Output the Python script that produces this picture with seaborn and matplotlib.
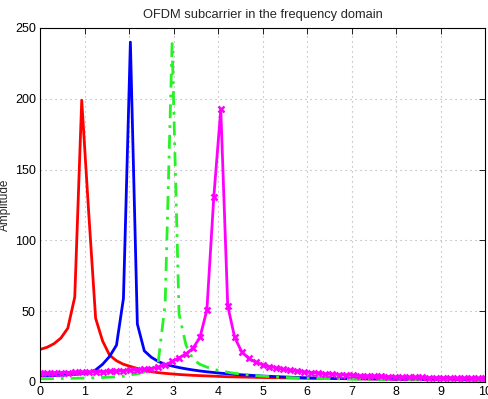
import numpy as np
import pandas as pd
import seaborn as sns
from matplotlib import pyplot as plt

# frequency grid (65 samples from 0 to 10)
freq = np.linspace(0, 10, 65)

red = [23, 24.5, 27, 31, 38, 60, 199, 120, 45, 29, 19, 15, 12.5, 11, 9.5, 8.3, 7.3, 6.6, 6.1, 5.7,
       5.3, 5.0, 4.7, 4.5, 4.3, 4.1, 3.9, 3.7, 3.6, 3.5, 3.4, 3.3, 3.2, 3.1, 3.0, 2.9, 2.85, 2.8, 2.7, 2.65,
       2.6, 2.5, 2.45, 2.4, 2.35, 2.3, 2.25, 2.2, 2.15, 2.1, 2.05, 2.0, 1.95, 1.9, 1.9, 1.85, 1.8, 1.8, 1.75,
       1.7, 1.7, 1.65, 1.6, 1.6, 1.55]

blue = [4.3, 4.4, 4.6, 4.8, 5.1, 5.4, 5.8, 6.5, 8.5, 12.5, 18, 26, 59, 240, 41, 22, 17.5, 14.5, 12.5, 11.3,
        10.2, 9.3, 8.5, 7.8, 7.2, 6.7, 6.2, 5.8, 5.4, 5.1, 4.8, 4.5, 4.2, 4.0, 3.8, 3.6, 3.4, 3.2, 3.0, 2.9,
        2.8, 2.7, 2.6, 2.5, 2.4, 2.35, 2.3, 2.25, 2.2, 2.15, 2.1, 2.05, 2.0, 1.95, 1.9, 1.85, 1.8, 1.75, 1.7,
        1.65, 1.6, 1.55, 1.5, 1.45, 1.4]

green = [2.3, 2.35, 2.4, 2.5, 2.55, 2.65, 2.75, 2.9, 3.0, 3.2, 3.4, 3.7, 4.0, 5.0, 5.8, 7.0, 9.0, 14, 55, 239,
         48, 26, 16, 12.5, 10.5, 9.0, 7.8, 6.9, 6.1, 5.5, 5.0, 4.5, 4.1, 3.8, 3.5, 3.3, 3.1, 2.9, 2.75, 2.6,
         2.5, 2.4, 2.3, 2.2, 2.1, 2.0, 1.95, 1.9, 1.85, 1.8, 1.75, 1.7, 1.65, 1.6, 1.55, 1.5, 1.45, 1.4, 1.4,
         1.35, 1.3, 1.3, 1.25, 1.2, 1.2]

magenta = [6.3, 6.4, 6.5, 6.6, 6.7, 6.8, 6.9, 7.0, 7.1, 7.3, 7.5, 7.7, 8.0, 8.3, 8.6, 9.0, 9.5, 10.5, 12.0,
           14.5, 17.0, 20.0, 23.8, 31.5, 50.8, 131, 192.6, 53.7, 31.5, 21.4, 16.7, 14.0, 12.2, 10.9, 9.9,
           9.0, 8.3, 7.7, 7.1, 6.6, 6.2, 5.8, 5.5, 5.2, 4.9, 4.7, 4.5, 4.3, 4.1, 3.9, 3.8, 3.6, 3.5, 3.4,
           3.3, 3.2, 3.1, 3.0, 2.95, 2.9, 2.8, 2.75, 2.7, 2.65, 2.6]

x_ticks = list(range(0, 11))
y_ticks = [0, 50, 100, 150, 200, 250]

sns.set_theme(style="white")
plt.rcParams['font.family'] = ['Liberation Sans', 'DejaVu Sans']

fig = plt.figure(figsize=(4.88, 3.99), dpi=100)
ax = fig.add_axes([40/488, 17/399, 445/488, 354/399])

df = pd.DataFrame({'f': freq, 'red': red, 'blue': blue, 'green': green, 'magenta': magenta})

sns.lineplot(data=df, x='f', y='red', color=(1, 0, 0), lw=2, ax=ax)
sns.lineplot(data=df, x='f', y='blue', color=(0, 0, 1), lw=2, ax=ax)
sns.lineplot(data=df, x='f', y='green', color=(0.15, 0.95, 0.15), lw=2,
             linestyle=(0, (5, 2.5, 1, 2.5)), ax=ax)
sns.lineplot(data=df, x='f', y='magenta', color=(1, 0, 1), lw=2, marker='x',
             markersize=5, markeredgewidth=1.8, markeredgecolor=(1, 0, 1), ax=ax)

ax.set_xlim(0, 10)
ax.set_ylim(0, 250)
ax.set_xticks(x_ticks)
ax.set_yticks(y_ticks)
ax.set_axisbelow(True)
ax.grid(True, linestyle=(0, (1, 3.5)), color='#aaaaaa', linewidth=0.8)
ax.tick_params(direction='in', top=True, right=True, length=4, width=0.6,
               labelsize=9, colors='black', pad=3)
for s in ax.spines.values():
	s.set_color('black')
	s.set_linewidth(0.8)

ax.set_xlabel('')
ax.set_ylabel('Amplitude', fontsize=8.5)
ax.yaxis.set_label_coords(-0.066, 0.5)
ax.set_title('OFDM subcarrier in the frequency domain', fontsize=9.3, pad=7)

fig.savefig('out.png', dpi=100)
